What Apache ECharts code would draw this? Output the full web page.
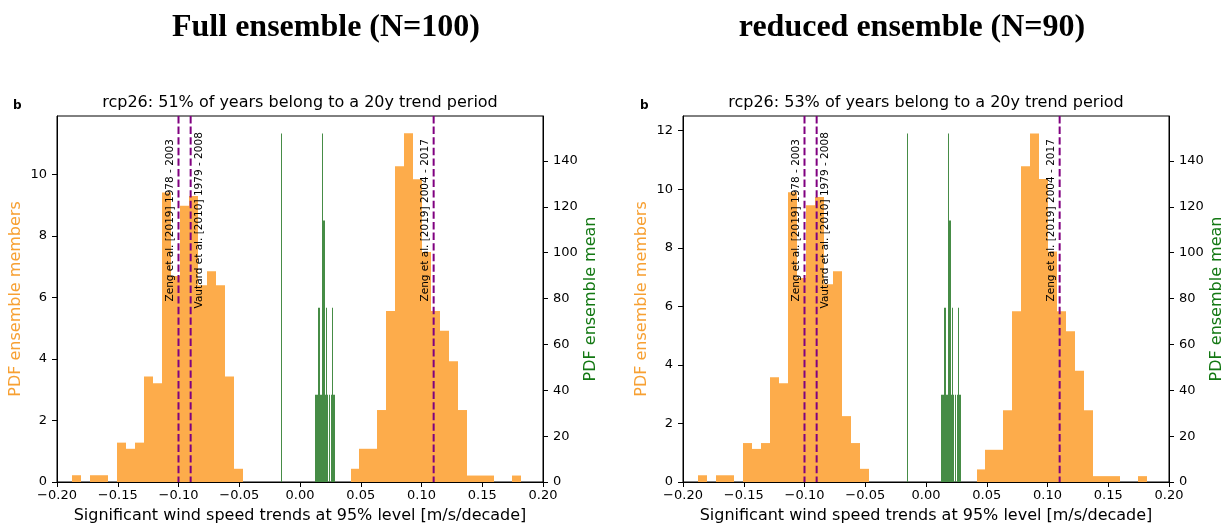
<!DOCTYPE html>
<html><head><meta charset="utf-8">
<script src="https://cdn.jsdelivr.net/npm/echarts@6/dist/echarts.min.js"></script>
<style>html,body{margin:0;padding:0;background:#fff}#c{width:1227px;height:529px}</style>
</head><body><div id="c"></div>
<script>
// ---------------- DATA ----------------
const panelTitles = ['Full ensemble (N=100)', 'reduced ensemble (N=90)'];
const subTitles = ['rcp26: 51% of years belong to a 20y trend period', 'rcp26: 53% of years belong to a 20y trend period'];
const panelLetter = 'b';
const xAxisName = 'Significant wind speed trends at 95% level [m/s/decade]';
const leftAxisName = 'PDF ensemble members';
const rightAxisName = 'PDF ensemble mean';

// histogram bin edges of the member trends (51 edges, 50 bins)
const orangeEdges = [-0.1874,-0.1800,-0.1726,-0.1652,-0.1579,-0.1505,-0.1431,-0.1357,-0.1283,-0.1209,
  -0.1135,-0.1062,-0.0988,-0.0914,-0.0840,-0.0766,-0.0692,-0.0618,-0.0545,-0.0471,
  -0.0397,-0.0323,-0.0249,-0.0175,-0.0101,-0.0028,0.0046,0.0120,0.0194,0.0268,
  0.0342,0.0416,0.0489,0.0563,0.0637,0.0711,0.0785,0.0859,0.0933,0.1007,
  0.1080,0.1154,0.1228,0.1302,0.1376,0.1450,0.1524,0.1597,0.1671,0.1745,0.1819];
// density of members, full ensemble
const orangeFull = [0.22,0,0.22,0.22,0,1.28,1.08,1.28,3.43,3.21,
  9.41,6.7,8.98,9.3,6.4,6.85,6.4,3.43,0.43,0,
  0,0,0,0,0,0,0,0,0,0,
  0,0.43,1.08,1.08,2.34,5.56,10.27,11.34,9.84,7.48,
  5.56,4.92,3.93,2.34,0.21,0.21,0.21,0,0,0.21];
// density of members, reduced ensemble
const orangeReduced = [0.23,0,0.23,0.23,0,1.33,1.13,1.33,3.58,3.37,
  9.9,6.97,9.45,9.73,6.75,7.2,2.25,1.33,0.45,0,
  0,0,0,0,0,0,0,0,0,0,
  0,0.43,1.1,1.1,2.45,5.83,10.78,11.9,10.35,7.87,
  5.83,5.15,3.8,2.45,0.2,0.2,0.2,0,0,0.2];
// ensemble-mean histogram: [bin start, bin end, density]
const greenBins = [
  [-0.0156,-0.0147,152],
  [0.0121,0.0130,38],[0.0130,0.0139,38],[0.0139,0.0148,38],[0.0148,0.0157,76],
  [0.0157,0.0166,76],[0.0166,0.0175,38],[0.0175,0.0184,38],[0.0184,0.0193,152],
  [0.0193,0.0202,114],[0.0202,0.0211,38],[0.0211,0.0220,76],[0.0220,0.0228,38],
  [0.0237,0.0246,38],[0.0255,0.0264,38],[0.0264,0.0273,76],[0.0273,0.0282,38],
  [0.0282,0.0291,38]];
// observational reference trends
const refValues = [-0.10, -0.09, 0.11];
const refLabels = ['Zeng et al. [2019] 1978 - 2003', 'Vautard et al. [2010] 1979 - 2008', 'Zeng et al. [2019] 2004 - 2017'];
const refSides = ['left', 'right', 'left'];
// ticks
const xTicks = [-0.20,-0.15,-0.10,-0.05,0.00,0.05,0.10,0.15,0.20];
const leftTicksFull = [0,2,4,6,8,10];
const leftTicksReduced = [0,2,4,6,8,10,12];
const rightTicks = [0,20,40,60,80,100,120,140];

// ---------------- STYLE / LAYOUT ----------------
const FONT = 'DejaVu Sans';
const ORANGE = '#fdac4b';
const GREEN = '#468c46';
const PURPLE = '#800080';
const grids = [
  {left: 57, top: 116, width: 486, height: 369},
  {left: 683, top: 116, width: 486, height: 371}
];
const leftMax = [11.9, 12.5];
const rightMax = [159.6, 159.6];

function histItem(color, minW) {
  return function (params, api) {
    const x0 = api.value(0), x1 = api.value(1), h = api.value(2);
    if (!h) return null;
    const p0 = api.coord([x0, h]);
    const p1 = api.coord([x1, 0]);
    const a = Math.round(p0[0]), b = Math.round(p1[0]);
    const w = Math.max(b - a, minW);
    return {type: 'rect', shape: {x: a, y: p0[1], width: w, height: p1[1] - p0[1]},
      style: {fill: color}};
  };
}
function refItem(params, api) {
  const i = params.dataIndex;
  const cs = params.coordSys;
  const px = api.coord([api.value(0), 0])[0];
  const left = refSides[i] === 'left';
  return {type: 'group', children: [
    {type: 'line', shape: {x1: px, y1: cs.y, x2: px, y2: cs.y + cs.height},
      style: {stroke: PURPLE, lineWidth: 2, lineDash: [7.4, 3.2]}},
    {type: 'text', x: left ? px - 3 : px + 3, y: cs.y + cs.height * 0.285, rotation: Math.PI / 2,
      style: {text: refLabels[i], fill: '#000', font: '10.5px "' + FONT + '"', align: 'center',
        verticalAlign: left ? 'bottom' : 'top'}}
  ]};
}
const fmtX = v => (v < -1e-9 ? '\u2212' : '') + Math.abs(v).toFixed(2);

const xAxes = [], yAxes = [], series = [], graphics = [];
[0, 1].forEach(p => {
  const g = grids[p];
  xAxes.push({
    type: 'value', gridIndex: p, min: -0.2, max: 0.2, interval: 0.05,
    name: xAxisName, nameLocation: 'middle', nameGap: 26,
    nameTextStyle: {fontFamily: FONT, fontSize: 16, color: '#000'},
    axisLine: {show: true, onZero: false, lineStyle: {color: '#000', width: 1}},
    axisTick: {show: true, inside: false, length: 5, lineStyle: {color: '#000'}, customValues: xTicks},
    axisLabel: {fontFamily: FONT, fontSize: 13, color: '#000', margin: 7, formatter: fmtX, customValues: xTicks},
    splitLine: {show: false}
  });
  const lt = p === 0 ? leftTicksFull : leftTicksReduced;
  yAxes.push({
    type: 'value', gridIndex: p, position: 'left', min: 0, max: leftMax[p], interval: 2,
    name: leftAxisName, nameLocation: 'middle', nameGap: 33,
    nameTextStyle: {fontFamily: FONT, fontSize: 16, color: '#f7a032'},
    axisLine: {show: true, onZero: false, lineStyle: {color: '#000', width: 1}},
    axisTick: {show: true, inside: false, length: 5, lineStyle: {color: '#000'}, customValues: lt},
    axisLabel: {fontFamily: FONT, fontSize: 13, color: '#000', margin: 10, customValues: lt,
      formatter: v => (Math.abs(v / 2 - Math.round(v / 2)) < 1e-6 ? String(v) : '')},
    splitLine: {show: false}
  });
  yAxes.push({
    type: 'value', gridIndex: p, position: 'right', min: 0, max: rightMax[p], interval: 20,
    name: rightAxisName, nameLocation: 'middle', nameGap: 40,
    nameTextStyle: {fontFamily: FONT, fontSize: 16, color: '#137813'},
    axisLine: {show: true, onZero: false, lineStyle: {color: '#000', width: 1}},
    axisTick: {show: true, inside: false, length: 5, lineStyle: {color: '#000'}, customValues: rightTicks},
    axisLabel: {fontFamily: FONT, fontSize: 13, color: '#000', margin: 10, customValues: rightTicks,
      formatter: v => (Math.abs(v / 20 - Math.round(v / 20)) < 1e-6 ? String(v) : '')},
    splitLine: {show: false}
  });
  const oVals = p === 0 ? orangeFull : orangeReduced;
  const oData = oVals.map((v, i) => [orangeEdges[i], orangeEdges[i + 1], v]);
  series.push({type: 'custom', xAxisIndex: p, yAxisIndex: 2 * p, data: oData, z: 2,
    encode: {x: [0, 1], y: 2}, renderItem: histItem(ORANGE, 1), silent: true});
  series.push({type: 'custom', xAxisIndex: p, yAxisIndex: 2 * p + 1, data: greenBins, z: 3,
    encode: {x: [0, 1], y: 2}, renderItem: histItem(GREEN, 1), silent: true});
  series.push({type: 'custom', xAxisIndex: p, yAxisIndex: 2 * p, z: 4,
    data: refValues.map(v => [v, 0]), encode: {x: 0, y: 1}, renderItem: refItem, silent: true});

  const cx = g.left + g.width / 2;
  graphics.push({type: 'text', x: [326, 912][p], y: 28, z: 10,
    style: {text: panelTitles[p], font: 'bold 32px "Liberation Serif"', fill: '#000', align: 'center', verticalAlign: 'middle'}});
  graphics.push({type: 'text', x: cx, y: 103, z: 10,
    style: {text: subTitles[p], font: '16px "' + FONT + '"', fill: '#000', align: 'center', verticalAlign: 'middle'}});
  graphics.push({type: 'text', x: [13, 640][p], y: 106, z: 10,
    style: {text: panelLetter, font: 'bold 12px "' + FONT + '"', fill: '#000', align: 'left', verticalAlign: 'middle'}});
});

const chart = echarts.init(document.getElementById('c'), null, {renderer: 'canvas'});
chart.setOption({
  animation: false,
  backgroundColor: '#fff',
  grid: grids.map(g => Object.assign({show: true, borderColor: '#000', borderWidth: 1, backgroundColor: 'transparent', containLabel: false}, g)),
  xAxis: xAxes,
  yAxis: yAxes,
  series: series,
  graphic: graphics
});
</script></body></html>
